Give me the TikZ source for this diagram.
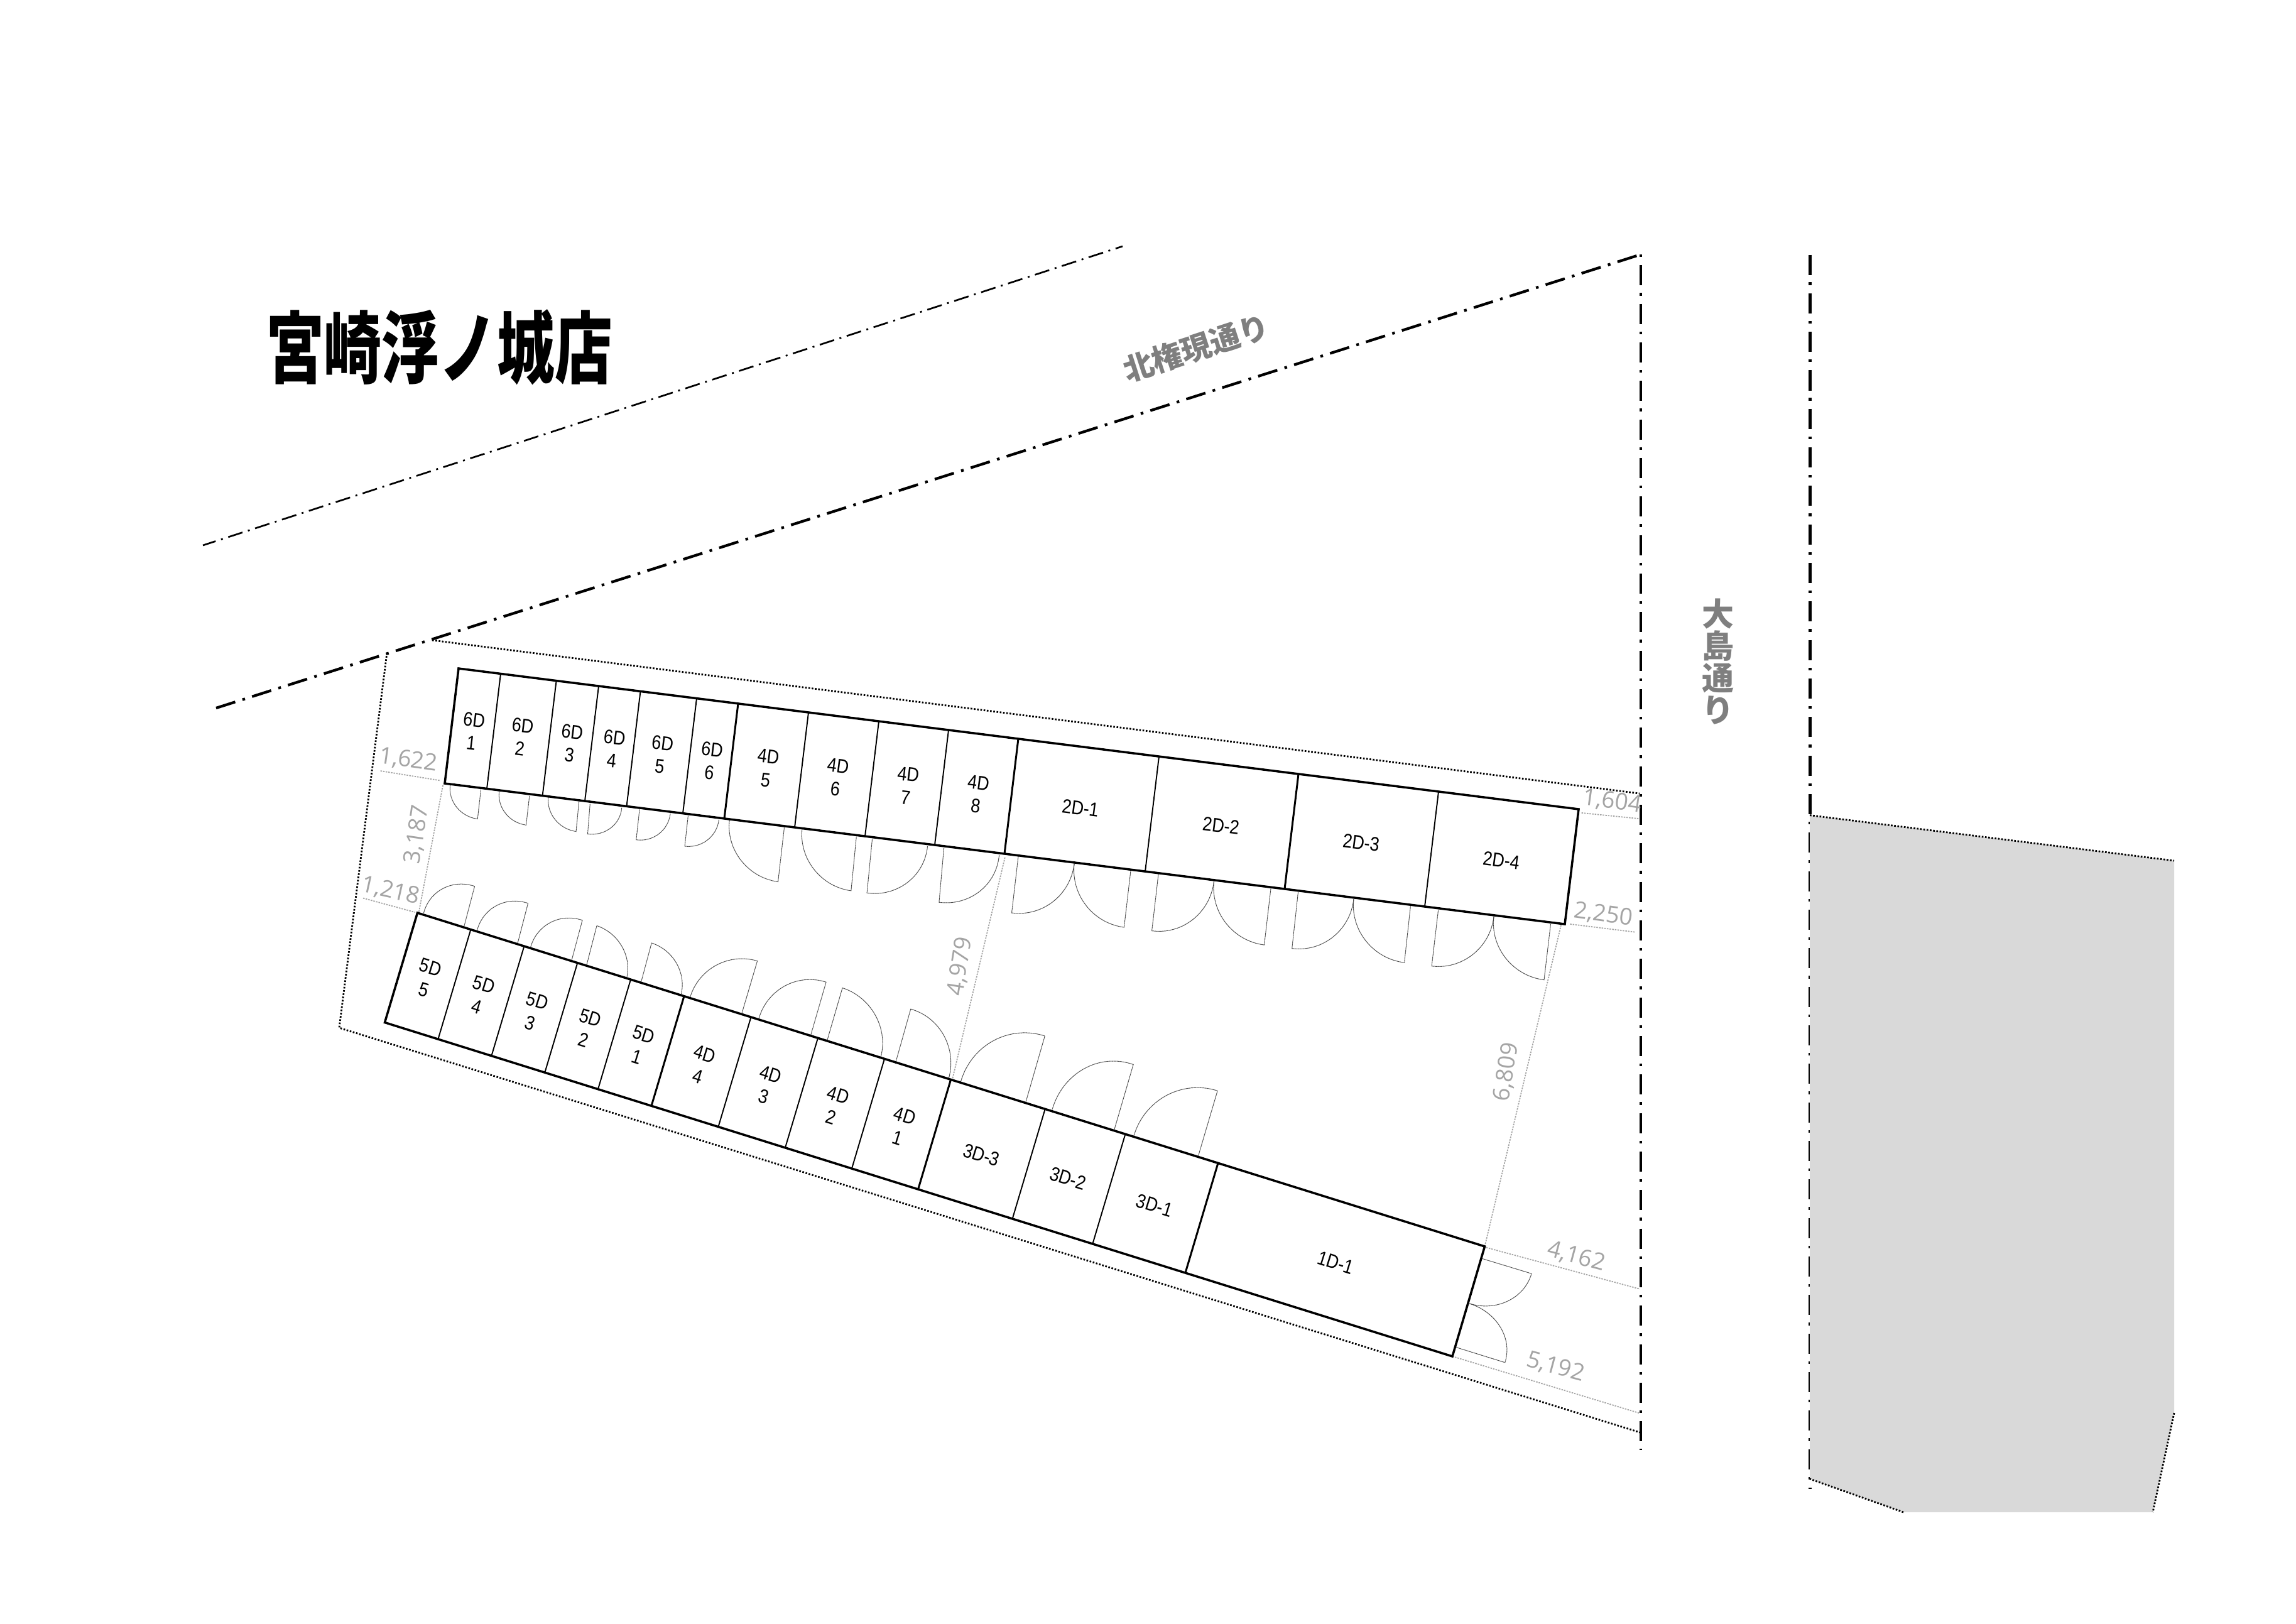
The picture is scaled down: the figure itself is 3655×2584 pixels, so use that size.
\documentclass[tikz,border=0pt]{standalone}
\usepackage{fontspec}
\setmainfont{Liberation Sans}
\newfontfamily\labf[FakeStretch=0.86]{Liberation Sans}
\newfontfamily\dimf{Open Sans}
\newfontfamily\cjk{Noto Sans CJK JP}
\definecolor{dimc}{HTML}{A4A4A4}
\definecolor{roadc}{HTML}{7F7F7F}
\definecolor{areac}{HTML}{D9D9D9}
\definecolor{doorc}{HTML}{444444}
\tikzset{
  roadslant/.style={line width=1.22pt,dash pattern=on 9.1pt off 3.4pt on 1.22pt off 3.35pt},
  roadvert/.style={line width=1.22pt,dash pattern=on 9.1pt off 3.4pt on 1.22pt off 3.72pt},
  roadthin/.style={line width=.77pt,dash pattern=on 6.83pt off 2.56pt on .85pt off 2.56pt,dash phase=.77pt},
  site/.style={line width=.8pt,dash pattern=on .75pt off .73pt},
  dimline/.style={color=dimc,line width=.5pt,dash pattern=on .7pt off .5pt},
  door/.style={color=doorc,line width=.28pt,dash pattern=on .35pt off .12pt},
  outer/.style={line width=1pt,line join=miter},
  dthin/.style={line width=.55pt},
  dthick/.style={line width=.85pt},
  z1/.style={shift={(500,1000)},xscale=0.76531,yscale=0.51020},
  z2/.style={shift={(1600,1100)},xscale=0.70153,yscale=0.51020},
  z3/.style={shift={(1400,1650)},xscale=0.82908,yscale=0.44643},
  cellu/.style={align=center,inner sep=0pt,rotate=-7.2,font=\labf\fontsize{8.9}{10.6}\selectfont},
  celll/.style={align=center,inner sep=0pt,rotate=-17.3,font=\labf\fontsize{8.9}{10.6}\selectfont},
  dimt/.style={inner sep=0pt,text=dimc,font=\dimf\fontsize{10.5}{12}\selectfont},
}
\newcommand{\drdoor}[6]{%
  \pgfmathsetmacro\dax{#3+.5523*(#5-#1)}\pgfmathsetmacro\day{#4+.5523*(#6-#2)}%
  \pgfmathsetmacro\dbx{#5+.5523*(#3-#1)}\pgfmathsetmacro\dby{#6+.5523*(#4-#2)}%
  \draw[door] (#1,#2) -- (#3,#4) .. controls (\dax,\day) and (\dbx,\dby) .. (#5,#6);}
\newcommand{\udiv}[2]{\pgfmathsetmacro\ty{1064+.1256*(#1-730)}\draw[#2] (#1,\ty) -- ++(-22,183);}
\newcommand{\ldiv}[2]{\pgfmathsetmacro\ty{1453+.3125*(#1-664.5)}\draw[#2] (#1,\ty) -- ++(-52,174.5);}
\begin{document}
\begin{tikzpicture}[x=0.01cm,y=-0.01cm]
\useasboundingbox (0,0) rectangle (3655,2584);
% roads
\draw[roadthin] (323,868) -- (1787,392);
\draw[roadslant] (344,1127) -- (2612,405);
\draw[roadvert,dash phase=12.5pt] (2612,405) -- (2612,2308);
\draw[roadvert,dash phase=17.3pt] (2881.5,405) -- (2881.5,2370);
% grey area
\fill[areac] (2881,1297.6) -- (3461,1370) -- (3461,2249) -- (3427,2407) -- (3030,2407) -- (2881,2354) -- cycle;
\draw[site] (2881,1297.6) -- (3461,1370);
\draw[site] (3461,2249) -- (3427,2407);
\draw[site] (3030,2407) -- (2881,2354);
% site boundary
\draw[site] (688,1019) -- (2610,1263);
\draw[site] (616,1039) -- (540,1636) -- (2610.6,2280);
% dimension lines
\begin{scope}[z1]
\draw[dimline] (138,445) -- (262,475);
\draw[dimline] (268,490) -- (218,885);
\draw[dimline] (102,842) -- (210,886);
\draw[dimline] (1437,715) -- (1328,1405);
\node[dimt,rotate=-8] (d1622) at (196,412) {1,622};
\node[dimt,rotate=81.7] (d3187) at (214,644) {3,187};
\node[dimt,rotate=-12.6] (d1218) at (159,820) {1,218};
\node[dimt,rotate=81] (d4979) at (1344,1055) {4,979};
\end{scope}
\begin{scope}[z2]
\draw[dimline] (1308,380) -- (1438,398);
\draw[dimline] (1282,727) -- (1430,752);
\node[dimt,rotate=-8] (d1604) at (1378,345) {1,604};
\node[dimt,rotate=-8] (d2250) at (1358,698) {2,250};
\node[dimt,rotate=81] (d6809) at (1138,1188) {6,809};
\end{scope}
\draw[dimline] (2485,1472.5) -- (2363.5,1984);
\begin{scope}[z3]
\draw[dimline] (1165,752) -- (1460,900);
\draw[dimline] (1100,1140) -- (1460,1343);
\node[dimt,rotate=-15] (d4162) at (1338,785) {4,162};
\node[dimt,rotate=-15] (d5192) at (1298,1178) {5,192};
\end{scope}
% doors
\begin{scope}[z1]
\drdoor{347}{503}{340}{595}{283}{490}
\drdoor{448}{523}{441}{614}{385}{510}
\drdoor{551}{540}{545}{634}{487}{527}
\drdoor{574}{548}{569}{642}{640}{560}
\drdoor{677}{565}{670}{660}{741}{578}
\drdoor{778}{585}{771}{680}{842}{597}
\drdoor{978}{622}{965}{791}{864}{598}
\drdoor{1128}{650}{1117}{819}{1015}{627}
\drdoor{1161}{657}{1150}{826}{1276}{680}
\drdoor{1310}{686}{1300}{855}{1425}{708}
\drdoor{312}{930}{334}{805}{228}{888}
\drdoor{423}{985}{445}{858}{339}{943}
\drdoor{535}{1040}{558}{911}{450}{997}
\drdoor{567}{1050}{588}{928}{650}{1092}
\drdoor{680}{1105}{702}{982}{763}{1145}
\drdoor{890}{1200}{922}{1038}{782}{1152}
\drdoor{1033}{1270}{1065}{1104}{925}{1218}
\drdoor{1067}{1287}{1099}{1122}{1178}{1342}
\drdoor{1209}{1358}{1241}{1188}{1320}{1405}
\drdoor{1480}{1480}{1520}{1272}{1345}{1415}
\end{scope}
\begin{scope}[z2]
\drdoor{30}{515}{15}{692}{157}{538}
\drdoor{285}{561}{270}{737}{157}{538}
\drdoor{348}{570}{333}{748}{474}{593}
\drdoor{603}{616}{588}{792}{474}{593}
\drdoor{665}{627}{651}{803}{791}{649}
\drdoor{920}{671}{906}{847}{791}{649}
\drdoor{983}{683}{968}{858}{1109}{704}
\drdoor{1238}{727}{1223}{901}{1109}{704}
\drdoor{247}{1372}{291}{1165}{107}{1305}
\drdoor{438}{1452}{482}{1247}{292}{1388}
\end{scope}
\begin{scope}[z3]
\drdoor{1158}{792}{1252}{845}{1133}{952}
\drdoor{1106}{1107}{1201}{1162}{1133}{952}
\end{scope}
% upper block
\draw[outer] (730,1064) -- (2513,1288) -- (2491,1471) -- (708,1247) -- cycle;
\udiv{797}{dthin}\udiv{885.6}{dthin}\udiv{953}{dthin}\udiv{1019.5}{dthin}\udiv{1109}{dthin}
\udiv{1175}{dthick}\udiv{1287}{dthin}\udiv{1399}{dthin}\udiv{1510}{dthin}\udiv{1621}{dthick}
\udiv{1845}{dthin}\udiv{2067}{dthick}\udiv{2290}{dthin}
% lower block
\draw[outer] (664.5,1453) -- (2363.5,1984) -- (2312,2159) -- (612.5,1627.5) -- cycle;
\ldiv{749.4}{dthin}\ldiv{834.4}{dthin}\ldiv{919.3}{dthin}\ldiv{1004}{dthin}\ldiv{1089}{dthick}
\ldiv{1195.5}{dthin}\ldiv{1302}{dthin}\ldiv{1408}{dthin}\ldiv{1513.6}{dthick}\ldiv{1663.7}{dthin}
\ldiv{1791.4}{dthin}\ldiv{1939}{dthick}
% unit labels
\begin{scope}[z1]
\node[cellu] (u61) at (330,322) {6D\\1};
\node[cellu] (u62) at (431,340) {6D\\2};
\node[cellu] (u63) at (534,360) {6D\\3};
\node[cellu] (u64) at (622,377) {6D\\4};
\node[cellu] (u65) at (722,395) {6D\\5};
\node[cellu] (u66) at (825,415) {6D\\6};
\node[cellu] (u45) at (942,437) {4D\\5};
\node[cellu] (u46) at (1087,465) {4D\\6};
\node[cellu] (u47) at (1233,492) {4D\\7};
\node[cellu] (u48) at (1379,519) {4D\\8};
\node[celll] (l55) at (235,1093) {5D\\5};
\node[celll] (l54) at (346,1146) {5D\\4};
\node[celll] (l53) at (457,1198) {5D\\3};
\node[celll] (l52) at (568,1250) {5D\\2};
\node[celll] (l51) at (679,1302) {5D\\1};
\node[celll] (l44) at (805,1363) {4D\\4};
\node[celll] (l43) at (943,1427) {4D\\3};
\node[celll] (l42) at (1083,1491) {4D\\2};
\end{scope}
\begin{scope}[z2]
\node[cellu] (u21) at (171,365) {2D-1};
\node[cellu] (u22) at (490,420) {2D-2};
\node[cellu] (u23) at (808,473) {2D-3};
\node[cellu] (u24) at (1126,528) {2D-4};
\end{scope}
\begin{scope}[z3]
\node[celll] (l41) at (42,322) {4D\\1};
\node[celll] (l33) at (196,422) {3D-3};
\node[celll] (l32) at (362,506) {3D-2};
\node[celll] (l31) at (528,602) {3D-1};
\node[celll] (l11) at (876,806) {1D-1};
\end{scope}
% titles
\node[inner sep=0pt,font=\cjk\bfseries\fontsize{35.5}{35.5}\selectfont] (title) at (699.5,553) {\scalebox{.735}[1]{宮崎浮ノ城店}};
\node[inner sep=0pt,text=roadc,rotate=18,font=\cjk\bfseries\fontsize{13.7}{13.7}\selectfont] (kita) at (1904,554) {北権現通り};
\node[inner sep=0pt,text=roadc,align=center,font=\cjk\bfseries\fontsize{14.5}{14.5}\selectfont] (oshima) at (2735,1053) {大\\島\\通\\り};
\end{tikzpicture}
\end{document}
